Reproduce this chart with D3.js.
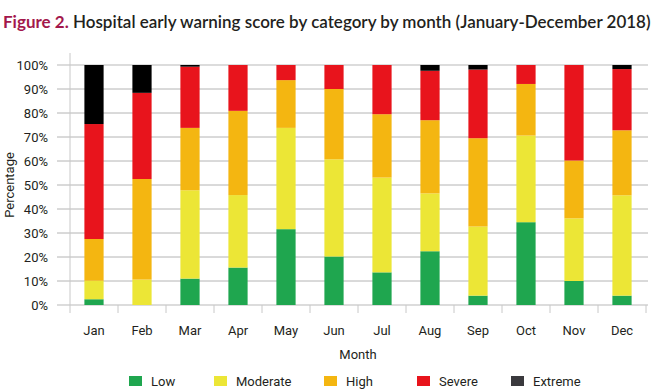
<!DOCTYPE html>
<html>
<head>
<meta charset="utf-8">
<script src="https://cdn.jsdelivr.net/npm/d3@7"></script>
<style>
    body { margin: 0; background: #fff; }
    svg text { font-family: Roboto, "Liberation Sans", sans-serif; fill: #231f20; }
</style>
</head>
<body>
<script>
// chart data
var months = ["Jan", "Feb", "Mar", "Apr", "May", "Jun",
              "Jul", "Aug", "Sep", "Oct", "Nov", "Dec"];
var categories = ["Low", "Moderate", "High", "Severe", "Extreme"];
var low      = [2.4, 0, 11.0, 15.6, 31.6, 20.2, 13.6, 22.4, 3.9, 34.5, 10.0, 3.9];
var moderate = [7.7, 10.6, 36.8, 30.2, 42.2, 40.5, 39.5, 24.1, 28.8, 36.1, 26.1, 41.8];
var high     = [17.4, 41.9, 26.0, 35.1, 19.9, 29.3, 26.4, 30.5, 36.8, 21.5, 24.1, 27.1];
var severe   = [47.9, 35.9, 25.5, 19.1, 6.3, 10.0, 20.5, 20.6, 28.6, 7.9, 39.8, 25.5];
var extreme  = [24.6, 11.6, 0.7, 0, 0, 0, 0, 2.4, 1.9, 0, 0, 1.7];
var yTicks = [0, 10, 20, 30, 40, 50, 60, 70, 80, 90, 100];

var colors = ["#1fa64f", "#ece636", "#f4b611", "#e8141c", "#000000"];
var legendColors = ["#1fa64f", "#ece636", "#f4b611", "#e8141c", "#3a393d"];

var width = 657, height = 391;
var margin = {top: 65, left: 70, right: 11, bottom: 86};

var svg = d3.select("body").append("svg")
    .attr("width", width)
    .attr("height", height);

// table for d3.stack
var rows = months.map(function(m, i) {
    return {month: m, Low: low[i], Moderate: moderate[i], High: high[i],
            Severe: severe[i], Extreme: extreme[i]};
});
var series = d3.stack().keys(categories)(rows);

var x = d3.scaleBand()
    .domain(months)
    .range([margin.left, width - margin.right])
    .paddingInner(0.6)
    .paddingOuter(0.3);

var xb = d3.scaleBand().domain(months)
    .range([margin.left, width - margin.right]);

var y = d3.scaleLinear()
    .domain([0, 100])
    .range([height - margin.bottom, margin.top]);

// title
var title = svg.append("text")
    .attr("x", 3)
    .attr("y", 28)
    .style("font-family", "Lato, Roboto, sans-serif")
    .style("font-size", "17px")
    .style("font-weight", "bold");
title.append("tspan").style("fill", "#a3174c").text("Figure 2.");
title.append("tspan").style("fill", "#231f20").style("font-weight", "600")
    .text(" Hospital early warning score by category by month (January-December 2018)");

// grid lines
svg.append("g").selectAll("line")
    .data(yTicks)
    .join("line")
    .attr("x1", 57)
    .attr("x2", 648)
    .attr("y1", function(d) { return y(d); })
    .attr("y2", function(d) { return y(d); })
    .style("stroke", function(d) { return (d == 0 || d == 100) ? "#dcdcdc" : "#b4b4b4"; })
    .style("stroke-width", function(d) { return (d == 0 || d == 100) ? 2 : 1; });

// left axis line
svg.append("line")
    .attr("x1", margin.left).attr("x2", margin.left)
    .attr("y1", 53).attr("y2", 313)
    .style("stroke", "#c8c8c8");

// bottom ticks between months
svg.append("g").selectAll("line")
    .data(months)
    .join("line")
    .attr("x1", function(d) { return xb(d) + xb.bandwidth(); })
    .attr("x2", function(d) { return xb(d) + xb.bandwidth(); })
    .attr("y1", y(0))
    .attr("y2", 313)
    .style("stroke", "#c8c8c8");

// y tick labels
svg.append("g").selectAll("text")
    .data(yTicks)
    .join("text")
    .attr("x", 48)
    .attr("y", function(d) { return y(d) + 5; })
    .attr("text-anchor", "end")
    .style("font-size", "13px")
    .text(function(d) { return d + "%"; });

// y axis title
svg.append("text")
    .attr("transform", "translate(14," + y(50) + ") rotate(-90)")
    .attr("text-anchor", "middle")
    .style("font-size", "13px")
    .text("Percentage");

// bars
svg.append("g").selectAll("g")
    .data(series)
    .join("g")
    .style("fill", function(d, i) { return colors[i]; })
    .selectAll("rect")
    .data(function(d) { return d; })
    .join("rect")
    .attr("x", function(d) { return x(d.data.month); })
    .attr("y", function(d) { return y(d[1]); })
    .attr("width", x.bandwidth())
    .attr("height", function(d) { return y(d[0]) - y(d[1]); });

// month labels
svg.append("g").selectAll("text")
    .data(months)
    .join("text")
    .attr("x", function(d) { return xb(d) + xb.bandwidth() / 2; })
    .attr("y", 335)
    .attr("text-anchor", "middle")
    .style("font-size", "13px")
    .text(function(d) { return d; });

svg.append("text")
    .attr("x", 358)
    .attr("y", 359)
    .attr("text-anchor", "middle")
    .style("font-size", "13px")
    .text("Month");

// legend
var legendX = [129, 214, 324, 417, 511];
var legend = svg.append("g").selectAll("g")
    .data(categories)
    .join("g")
    .attr("transform", function(d, i) { return "translate(" + legendX[i] + ",376)"; });
legend.append("rect")
    .attr("width", 13)
    .attr("height", 10)
    .style("fill", function(d, i) { return legendColors[i]; });
legend.append("text")
    .attr("x", 22)
    .attr("y", 10)
    .style("font-size", "13px")
    .text(function(d) { return d; });
</script>
</body>
</html>
